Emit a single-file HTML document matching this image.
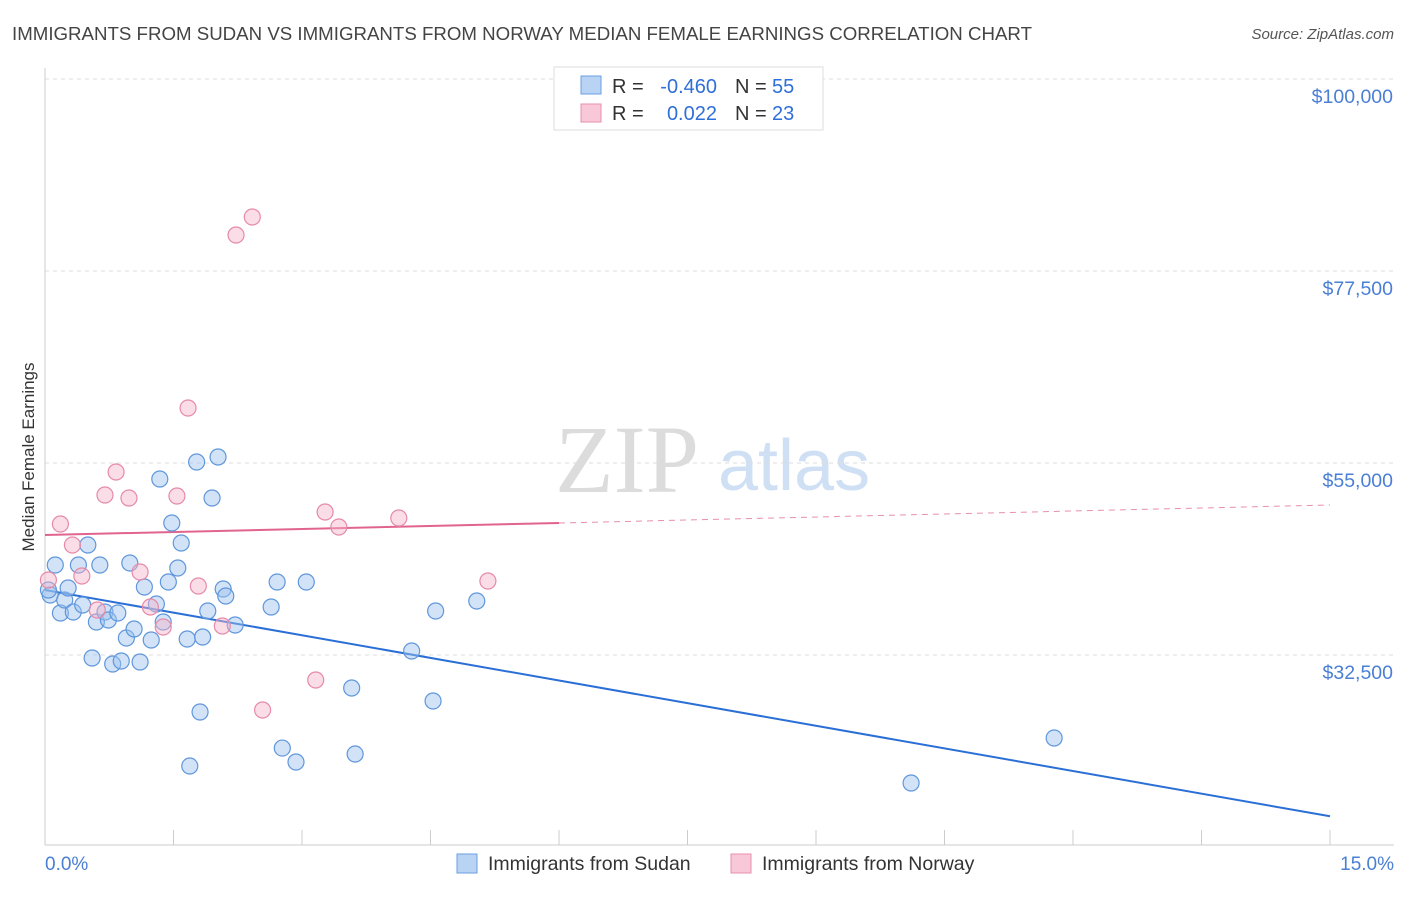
<!DOCTYPE html>
<html><head><meta charset="utf-8"><style>
body{margin:0;background:#fff;font-family:"Liberation Sans",sans-serif;}
svg text{font-family:"Liberation Sans",sans-serif;}
</style></head><body>
<svg id="chart" width="1406" height="892" xmlns="http://www.w3.org/2000/svg">
<text x="12" y="40" font-size="18.5" fill="#444" textLength="1020" lengthAdjust="spacingAndGlyphs">IMMIGRANTS FROM SUDAN VS IMMIGRANTS FROM NORWAY MEDIAN FEMALE EARNINGS CORRELATION CHART</text>
<text x="1394" y="39" font-size="15" fill="#555" text-anchor="end" font-style="italic">Source: ZipAtlas.com</text>
<g>
<text x="555" y="492" font-size="96" fill="#dcdcdc" style="font-family:'Liberation Serif',serif">ZIP</text>
<text x="718" y="490" font-size="72" fill="#cfe0f4">atlas</text>
</g>
<g id="grid"></g>
<g id="axes"></g>
<g id="trends"></g>
<g id="pts"></g>
<text transform="translate(34,457) rotate(-90)" font-size="17" fill="#333" text-anchor="middle">Median Female Earnings</text>
<text x="45" y="870" font-size="19" fill="#4a7fd4">0.0%</text>
<text x="1394" y="870" font-size="19" fill="#4a7fd4" text-anchor="end">15.0%</text>
<g font-size="20">
<rect x="554" y="67" width="269" height="63" fill="#fff" stroke="#ddd"/>
<rect x="581" y="76" width="20" height="18" fill="#b9d3f4" stroke="#6a9fe0"/>
<rect x="581" y="104" width="20" height="18" fill="#f8c8d8" stroke="#e88fab"/>
<text x="612" y="93" fill="#333">R =</text>
<text x="717" y="93" fill="#2f6fd8" text-anchor="end">-0.460</text>
<text x="735" y="93" fill="#333">N =</text>
<text x="772" y="93" fill="#2f6fd8">55</text>
<text x="612" y="120" fill="#333">R =</text>
<text x="717" y="120" fill="#2f6fd8" text-anchor="end">0.022</text>
<text x="735" y="120" fill="#333">N =</text>
<text x="772" y="120" fill="#2f6fd8">23</text>
</g>
<g>
<rect x="457" y="854" width="20" height="19" fill="#b9d3f4" stroke="#6a9fe0"/>
<text x="488" y="870" font-size="19.5" fill="#333">Immigrants from Sudan</text>
<rect x="731" y="854" width="20" height="19" fill="#f8c8d8" stroke="#e88fab"/>
<text x="762" y="870" font-size="19.5" fill="#333">Immigrants from Norway</text>
</g>
</svg>
<script>
const yTicks=[32500,55000,77500,100000];
const yTickLabels=["$32,500","$55,000","$77,500","$100,000"];
const xTicks=[0,1.5,3,4.5,6,7.5,9,10.5,12,13.5,15];
const sudanX=[0.06,0.12,0.18,0.23,0.27,0.33,0.39,0.44,0.50,0.55,0.60,0.64,0.70,0.74,0.79,0.85,0.89,0.95,0.99,1.04,1.11,1.16,1.24,1.30,1.34,1.38,1.44,1.48,1.55,1.59,1.66,1.69,1.77,1.81,1.84,1.90,1.95,2.02,2.08,2.11,2.22,2.64,2.71,2.77,2.93,3.05,3.58,3.62,4.28,4.53,4.56,5.04,10.11,11.78,0.04];
const sudanY=[39530,43046,37421,38944,40350,37538,43046,38358,45391,32147,36366,43046,37538,36600,31444,37421,31796,34491,43280,35546,31678,40467,34256,38475,53124,36366,41053,47968,42694,45625,34374,19490,55116,25819,34608,37655,50898,55702,40233,39413,36014,38124,41053,21592,19959,41053,28632,20896,32967,27108,37655,38827,17498,22774,40116];
const norwayX=[0.04,0.18,0.32,0.43,0.61,0.70,0.83,0.98,1.11,1.23,1.38,1.54,1.67,1.79,2.07,2.23,2.42,2.54,3.16,3.27,3.43,4.13,5.17];
const norwayY=[41288,47850,45391,41757,37772,51250,53944,50898,42226,38124,35780,51132,61444,40584,35897,81718,83827,26053,29569,49256,47499,48553,41170];
const sudanTrend=[40116,13600];
const norwayTrend=[46563,50079];
const norwaySolidEnd=6;
const X=v=>45+v*(1285/15), Y=v=>79+(100000-v)*192/22500;
const NS="http://www.w3.org/2000/svg";
function mk(t,a,p){const e=document.createElementNS(NS,t);for(const k in a)e.setAttribute(k,a[k]);document.getElementById(p).appendChild(e);return e;}
yTicks.forEach((v,i)=>{
 const l=mk('line',{x1:45,x2:1394,y1:Y(v),y2:Y(v),stroke:'#ddd','stroke-dasharray':'4,4'},'grid');
 
 
 const t=mk('text',{x:1393,y:Y(v)+24,'font-size':19.5,fill:'#4a7fd4','text-anchor':'end'},'grid');
 t.textContent=yTickLabels[i];
 
 
});
const ax=mk('line',{x1:45,x2:45,y1:68,y2:845,stroke:'#ccc'},'axes');


const bx=mk('line',{x1:45,x2:1394,y1:845,y2:845,stroke:'#ccc'},'axes');


xTicks.forEach(v=>{
 const t=mk('line',{x1:X(v),x2:X(v),y1:830,y2:845,stroke:'#ccc'},'axes');
 
 
});
function pts(xs,ys,fill,stroke,name){
 xs.forEach((x,i)=>{
  const c=mk('circle',{cx:X(x),cy:Y(ys[i]),r:8,fill:fill,'fill-opacity':0.45,stroke:stroke,'stroke-width':1.2},'pts');
  
  
 });
}
pts(sudanX,sudanY,'#9cc0ee','#5f96dc','sudan-point');
pts(norwayX,norwayY,'#f4b3c8','#e68aa8','norway-point');
const s=mk('line',{x1:X(0),y1:Y(sudanTrend[0]),x2:X(15),y2:Y(sudanTrend[1]),stroke:'#2a6fd6','stroke-width':2},'trends');


const nm=norwayTrend[0]+(norwayTrend[1]-norwayTrend[0])*norwaySolidEnd/15;
const n1=mk('line',{x1:X(0),y1:Y(norwayTrend[0]),x2:X(norwaySolidEnd),y2:Y(nm),stroke:'#e0648e','stroke-width':2},'trends');


const n2=mk('line',{x1:X(norwaySolidEnd),y1:Y(nm),x2:X(15),y2:Y(norwayTrend[1]),stroke:'#e88fab','stroke-width':1,'stroke-dasharray':'6,5'},'trends');


</script>
</body></html>
